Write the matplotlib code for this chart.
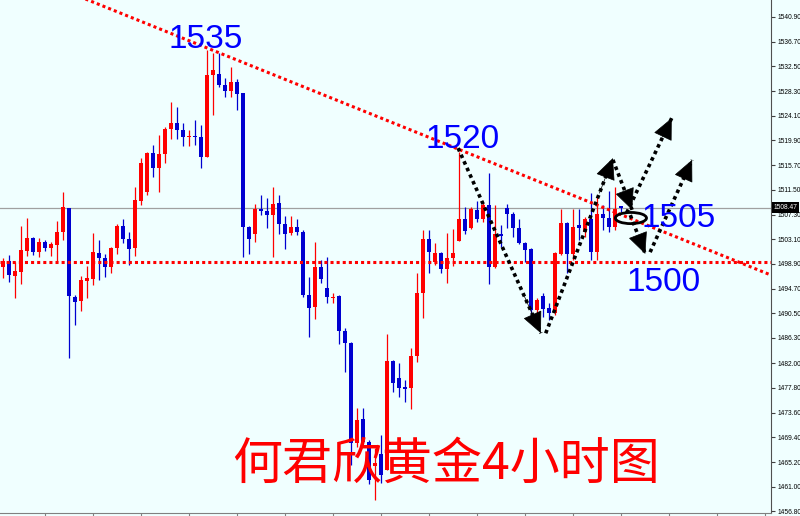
import numpy as np
import matplotlib.pyplot as plt
from matplotlib.patches import Ellipse

# 4小时K线数据 (开, 收, 高, 低)
opens = [1498.4, 1499.4, 1496.8, 1497.5, 1501.1, 1503.3, 1500.9, 1502.6, 1501.6, 1502.1,
         1504.3, 1508.4, 1493.3, 1492.6, 1496.0, 1496.3, 1500.8, 1499.9, 1498.4, 1501.6,
         1505.3, 1503.1, 1501.6, 1509.6, 1511.1, 1517.8, 1515.2, 1517.6, 1521.8, 1522.9,
         1521.7, 1520.5, 1520.7, 1520.5, 1517.1, 1531.0, 1531.2, 1529.3, 1528.3, 1529.8,
         1528.0, 1505.2, 1504.0, 1508.2, 1507.9, 1507.2, 1509.3, 1505.7, 1504.2, 1505.2,
         1504.3, 1493.6, 1491.6, 1498.4, 1494.8, 1493.1, 1493.4, 1487.5, 1485.4, 1468.4,
         1472.5, 1468.6, 1464.5, 1466.6, 1463.8, 1482.4, 1479.5, 1478.0, 1477.8, 1483.2,
         1493.9, 1503.1, 1499.2, 1500.8, 1498.0, 1499.9, 1502.8, 1506.5, 1505.0, 1508.1,
         1506.5, 1508.9, 1498.4, 1504.0, 1508.4, 1507.4, 1505.0, 1502.5, 1501.4, 1491.1,
         1493.4, 1491.4, 1490.5, 1500.6, 1505.9, 1500.6, 1505.5, 1504.3, 1506.5, 1500.9,
         1507.4, 1506.7, 1505.2, 1508.6]
closes = [1499.4, 1497.0, 1497.7, 1501.3, 1503.3, 1500.9, 1502.6, 1501.6, 1502.3, 1504.3,
          1508.6, 1493.4, 1492.4, 1496.2, 1496.5, 1500.9, 1499.9, 1498.4, 1501.6, 1505.3,
          1503.1, 1501.4, 1509.8, 1516.1, 1517.8, 1515.2, 1517.6, 1521.8, 1522.9, 1521.7,
          1520.5, 1520.7, 1520.5, 1517.1, 1531.0, 1531.9, 1529.3, 1528.3, 1529.8, 1527.8,
          1505.2, 1503.1, 1508.2, 1507.9, 1507.2, 1509.1, 1505.7, 1504.0, 1505.2, 1504.3,
          1493.6, 1491.4, 1498.4, 1496.3, 1493.3, 1493.3, 1487.5, 1485.4, 1468.4, 1472.3,
          1468.6, 1462.2, 1465.0, 1463.0, 1482.4, 1478.6, 1477.8, 1477.6, 1483.2, 1493.9,
          1503.1, 1500.9, 1500.8, 1498.0, 1499.9, 1500.8, 1506.5, 1504.5, 1508.2, 1506.5,
          1508.9, 1498.4, 1504.0, 1503.6, 1507.4, 1505.0, 1502.5, 1501.3, 1491.1, 1492.8,
          1491.2, 1490.5, 1500.8, 1505.9, 1500.6, 1505.2, 1505.0, 1506.5, 1500.9, 1507.4,
          1506.7, 1505.2, 1508.2, 1508.47]
highs = [1499.9, 1500.4, 1499.2, 1505.3, 1506.7, 1503.5, 1503.3, 1503.0, 1502.6, 1506.2,
         1511.1, 1508.4, 1493.6, 1496.8, 1498.5, 1504.2, 1503.0, 1500.6, 1501.8, 1505.7,
         1506.5, 1504.3, 1512.0, 1516.9, 1517.9, 1519.1, 1520.8, 1522.2, 1526.4, 1525.6,
         1522.9, 1521.7, 1523.4, 1522.5, 1535.3, 1534.8, 1534.8, 1530.5, 1532.4, 1530.4,
         1528.0, 1505.3, 1509.1, 1510.6, 1510.1, 1512.0, 1510.6, 1507.0, 1507.0, 1506.5,
         1504.7, 1496.7, 1502.6, 1499.6, 1500.1, 1493.9, 1493.6, 1488.0, 1485.6, 1474.4,
         1474.4, 1469.0, 1467.6, 1469.8, 1487.0, 1482.6, 1482.0, 1479.2, 1484.6, 1497.4,
         1504.7, 1504.7, 1502.5, 1500.9, 1504.2, 1504.8, 1517.9, 1508.6, 1508.6, 1509.6,
         1509.3, 1514.4, 1508.9, 1505.5, 1509.1, 1507.7, 1506.5, 1502.6, 1501.6, 1493.1,
         1493.9, 1492.2, 1500.9, 1508.2, 1506.0, 1508.2, 1508.2, 1506.9, 1510.9, 1510.3,
         1508.9, 1511.3, 1512.0, 1508.8]
lows = [1496.5, 1495.8, 1493.1, 1495.5, 1500.2, 1500.4, 1500.1, 1501.1, 1500.2, 1499.2,
        1503.0, 1482.9, 1488.5, 1490.9, 1493.1, 1495.3, 1496.2, 1496.7, 1497.4, 1500.6,
        1502.5, 1498.7, 1500.2, 1508.9, 1510.6, 1513.7, 1511.1, 1516.1, 1520.1, 1520.1,
        1518.9, 1518.9, 1519.1, 1515.2, 1517.1, 1524.2, 1529.0, 1527.3, 1527.3, 1525.1,
        1500.1, 1500.6, 1502.6, 1507.2, 1505.0, 1500.1, 1504.0, 1501.4, 1503.8, 1503.8,
        1493.3, 1486.5, 1489.5, 1495.7, 1492.2, 1492.2, 1485.3, 1480.5, 1464.7, 1467.8,
        1468.4, 1461.5, 1458.8, 1461.6, 1463.8, 1477.1, 1476.3, 1475.4, 1474.2, 1482.2,
        1489.7, 1497.3, 1498.7, 1497.3, 1495.7, 1498.5, 1502.8, 1504.0, 1504.9, 1506.0,
        1506.0, 1495.5, 1498.2, 1501.8, 1505.0, 1503.5, 1502.3, 1499.2, 1489.4, 1489.4,
        1489.9, 1489.4, 1490.2, 1500.4, 1497.3, 1499.6, 1503.0, 1503.5, 1499.6, 1499.6,
        1504.7, 1504.3, 1504.7, 1507.7]

# 右侧价格刻度
tick_values = [1540.90, 1536.70, 1532.50, 1528.30, 1524.10, 1519.90, 1515.70, 1511.50,
               1507.30, 1503.10, 1498.90, 1494.70, 1490.50, 1486.30, 1482.00, 1477.80,
               1473.60, 1469.40, 1465.20, 1461.00, 1456.80]
last_price = 1508.47
support = 1499.2

# 趋势线 (K线序号, 价格)
trend_x = [13.7, 128.05]
trend_y = [1544.0, 1497.0]

# 预测路径 (起点, 终点)
arrow_paths = [
    ((75.9, 1518.6), (89.7, 1487.1)),
    ((90.5, 1487.1), (101.7, 1516.9)),
    ((101.7, 1516.6), (104.9, 1508.1)),
    ((104.0, 1507.6), (111.5, 1523.7)),
    ((104.6, 1507.2), (107.1, 1500.6)),
    ((107.9, 1500.9), (114.9, 1516.6)),
]

up_c = '#FF0000'
down_c = '#0000D0'
bg = '#F0FFFF'

fig = plt.figure(figsize=(8, 5.16), dpi=100, facecolor=bg)
ax = fig.add_axes([0, 3 / 516, 771 / 800, 513 / 516], facecolor=bg)

idx = np.arange(len(opens))
o = np.array(opens)
c = np.array(closes)
colors = [up_c if cc >= oo else down_c for oo, cc in zip(o, c)]

# 影线
ax.vlines(idx, lows, highs, colors=colors, lw=0.9, zorder=3)
# 实体
body = np.maximum(np.abs(c - o), 0.2)
ax.bar(idx, body, bottom=np.minimum(o, c), width=0.66, color=colors, lw=0, zorder=4)

ax.set_xlim(-0.45, 128.05)
ax.set_ylim(1456.53, 1543.79)

# 当前价格线
ax.axhline(last_price, color='#A0A0A0', lw=0.9, zorder=2)

# 支撑线和趋势线
ax.axhline(support, color='#FF0000', lw=2.2, ls=(0, (1, 1)), zorder=5)
ax.plot(trend_x, trend_y, color='#FF0000', lw=2.2, ls=(0, (1, 1)), zorder=5)

# 黑色虚线箭头
for (x0, y0), (x1, y1) in arrow_paths:
    ax.plot([x0, x1], [y0, y1], color='black', lw=2.6, ls=(0, (1, 1)), zorder=6)
    ax.annotate('', xy=(x1, y1), xytext=(x0 + (x1 - x0) * 0.8, y0 + (y1 - y0) * 0.8),
                arrowprops=dict(arrowstyle='-|>,head_length=1.4,head_width=0.65',
                                color='black', lw=0.5, shrinkA=0, shrinkB=0), zorder=7)

ax.add_patch(Ellipse((104.7, 1506.7), 5.2, 1.9, fill=False, ec='black', lw=2, zorder=7))

# 标注
num_font = dict(color='#0000FF', fontsize=24, family='Liberation Sans', ha='center', va='center', zorder=8)
ax.text(33.9, 1537.0, '1535', **num_font)
ax.text(76.6, 1520.0, '1520', **num_font)
ax.text(112.6, 1506.7, '1505', **num_font)
ax.text(110.2, 1495.7, '1500', **num_font)

ax.text(73.9, 1464.7, '何君欣黄金4小时图', color='#FF0000', fontsize=36,
        family=['Noto Sans CJK SC', 'DejaVu Sans'], ha='center', va='center', zorder=8)

# 坐标轴
for s in ['left', 'top']:
    ax.spines[s].set_visible(False)
ax.spines['right'].set_color('#505050')
ax.spines['bottom'].set_color('#808080')
ax.yaxis.tick_right()
ax.set_yticks(tick_values)
ax.set_yticklabels(['%.2f' % v for v in tick_values], family='Liberation Sans')
ax.tick_params(axis='y', length=3, width=0.8, colors='#404040', labelsize=4.8, pad=1.5,
               labelcolor='black')
ax.set_xticks(np.arange(7, 128, 8))
ax.set_xticklabels([])
ax.tick_params(axis='x', length=3, width=0.8, colors='#808080')

ax.text(1.003, last_price, '%.2f' % last_price, transform=ax.get_yaxis_transform(),
        color='white', fontsize=4.8, family='Liberation Sans', ha='left', va='center',
        bbox=dict(fc='black', ec='none', pad=1.2), zorder=9, clip_on=False)

plt.savefig('out.png', dpi=100, facecolor=bg)
